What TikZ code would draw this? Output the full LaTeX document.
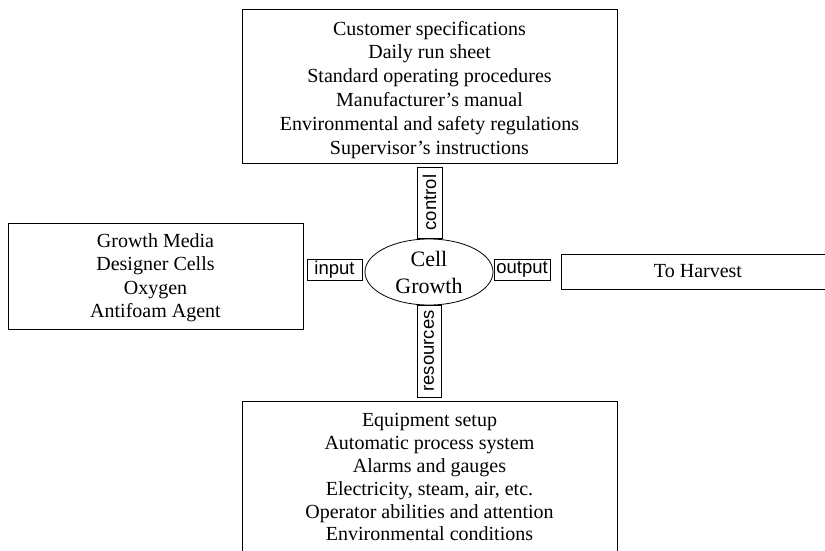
\documentclass[tikz,border=0pt]{standalone}
\usepackage{fontspec}
\setmainfont{Liberation Serif}
\setsansfont{Liberation Sans}
\usetikzlibrary{shapes.geometric}
\begin{document}
\begin{tikzpicture}[x=1pt,y=-1pt,
  box/.style={draw, line width=0.8pt, rectangle, inner sep=0pt},
  list/.style={align=center, inner sep=0pt, anchor=north},
  tag/.style={draw, line width=0.8pt, rectangle, inner sep=0pt,
              font=\sffamily\fontsize{18.5}{20}\selectfont},
  hub/.style={draw, line width=0.8pt, ellipse, inner sep=0pt, align=center,
              minimum width=128pt, minimum height=66pt,
              font=\fontsize{22}{27}\selectfont},
  ]
\useasboundingbox (0,0) rectangle (825,550);
\clip (0,0) rectangle (825,550);

% central activity
\node[hub] (cell) at (429,272) {Cell\\Growth};

% controls above
\node[box, minimum width=375pt, minimum height=154pt] (controls) at (429.5,86) {};
\node[list, font=\fontsize{20}{23.8}\selectfont] (ctrllist) at (429.5,20.8)
  {Customer specifications\\Daily run sheet\\Standard operating procedures\\
   Manufacturer's manual\\Environmental and safety regulations\\Supervisor's instructions};

% inputs on the left
\node[box, minimum width=295pt, minimum height=106pt] (inputs) at (155.5,276) {};
\node[list, font=\fontsize{20}{23.3}\selectfont] (inlist) at (155.5,233.5)
  {Growth Media\\Designer Cells\\Oxygen\\Antifoam Agent};

% output on the right
\node[box, minimum width=274pt, minimum height=35pt, font=\fontsize{20}{24}\selectfont]
  (harvest) at (698,271.5) {To Harvest};

% resources below
\node[box, minimum width=375pt, minimum height=170pt, anchor=north] (resources) at (429.5,401) {};
\node[list, font=\fontsize{20}{22.8}\selectfont] (reslist) at (429.5,413.5)
  {Equipment setup\\Automatic process system\\Alarms and gauges\\
   Electricity, steam, air, etc.\\Operator abilities and attention\\Environmental conditions};

% labelled links
\node[tag, rotate=90, minimum width=71pt, minimum height=25pt] (tcontrol) at (429.5,202.5) {control};
\node[tag, minimum width=55pt, minimum height=21pt] (tinput) at (334.5,269.5) {input};
\node[tag, minimum width=56pt, minimum height=21pt] (toutput) at (522,269.5) {output};
\node[tag, rotate=90, minimum width=92pt, minimum height=24pt] (tresources) at (429,351) {resources};
\end{tikzpicture}
\end{document}
